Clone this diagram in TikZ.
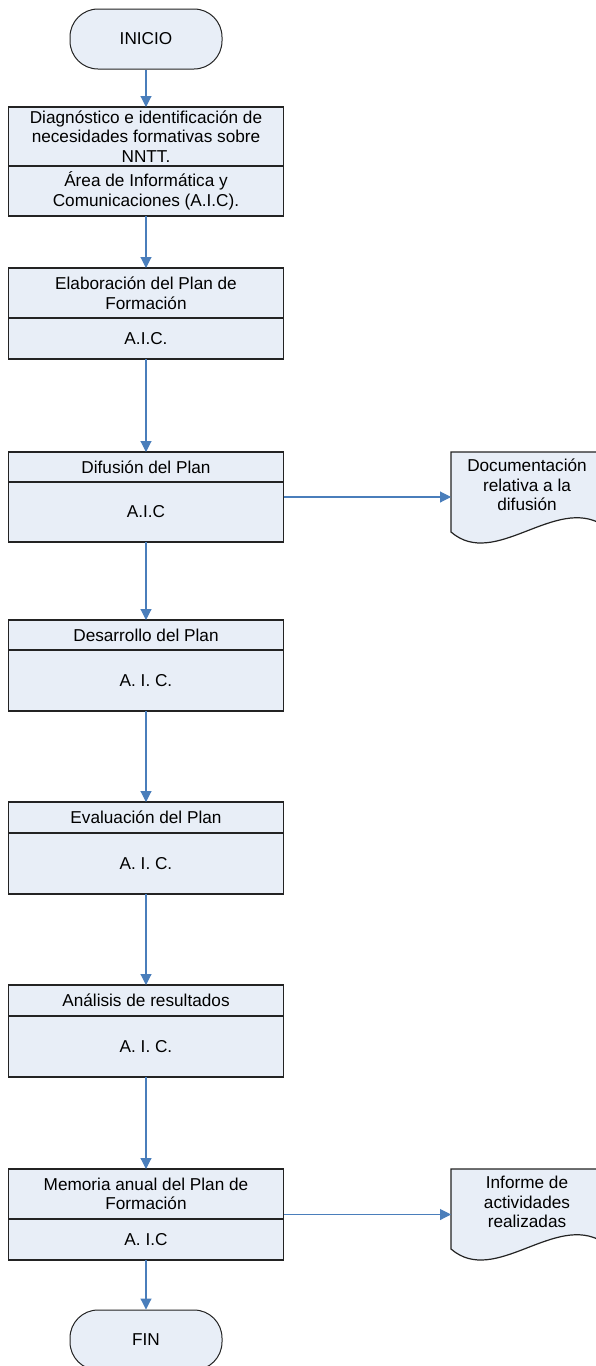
\documentclass[tikz,border=0pt]{standalone}
\usepackage{fontspec}
\setmainfont{Liberation Sans}
\usetikzlibrary{arrows.meta,calc}
\definecolor{fillc}{RGB}{232,238,247}
\definecolor{arrc}{RGB}{74,126,187}
\definecolor{linec}{RGB}{35,35,35}
\newcommand\docshp[1]{%
  \filldraw[draw=linec, fill=fillc, line width=1.2pt]
    (451,#1) -- (603,#1) -- (603,#1+73)
    .. controls (555,#1+43) and (495,#1+118) .. (451,#1+80) -- cycle;}
\begin{document}
\begin{tikzpicture}[x=1pt,y=-1pt,
  every node/.style={font=\fontsize{17.2}{19.5}\selectfont},
  part/.style={draw=linec, fill=fillc, line width=1.2pt, minimum width=275pt,
    inner sep=0pt, outer sep=0pt, align=center, anchor=north},
  term/.style={draw=linec, fill=fillc, line width=1pt, rounded corners=28pt,
    minimum width=152pt, minimum height=60pt},
  flow/.style={draw=arrc, line width=1.1pt, -{Triangle[width=11pt,length=11pt]}},
  docarea/.style={minimum width=152pt, minimum height=91pt, inner sep=0pt, outer sep=0pt},
  doctext/.style={align=center, inner sep=0pt},
]
\useasboundingbox (0,0) rectangle (596,1366);
\clip (0,0) rectangle (596,1366);

% terminals
\node[term] (ini) at (146,39) {INICIO};
\node[term] (fin) at (146,1340) {FIN};

% process boxes
\node[part, minimum height=59pt] (b1t) at (146,107) {Diagnóstico e identificación de\\necesidades formativas sobre\\NNTT.};
\node[part, minimum height=50pt] (b1b) at (b1t.south) {Área de Informática y\\Comunicaciones (A.I.C).};

\node[part, minimum height=50pt] (b2t) at (146,268) {Elaboración del Plan de\\Formación};
\node[part, minimum height=41pt] (b2b) at (b2t.south) {A.I.C.};

\node[part, minimum height=30pt] (b3t) at (146,452) {Difusión del Plan};
\node[part, minimum height=60pt] (b3b) at (b3t.south) {A.I.C};

\node[part, minimum height=30pt] (b4t) at (146,620) {Desarrollo del Plan};
\node[part, minimum height=61pt] (b4b) at (b4t.south) {A. I. C.};

\node[part, minimum height=31pt] (b5t) at (146,802) {Evaluación del Plan};
\node[part, minimum height=61pt] (b5b) at (b5t.south) {A. I. C.};

\node[part, minimum height=31pt] (b6t) at (146,985) {Análisis de resultados};
\node[part, minimum height=61pt] (b6b) at (b6t.south) {A. I. C.};

\node[part, minimum height=50pt] (b7t) at (146,1169) {Memoria anual del Plan de\\Formación};
\node[part, minimum height=41pt] (b7b) at (b7t.south) {A. I.C};

% documents
\docshp{452}
\node[docarea] (d1) at (527,497.5) {};
\node[doctext] (d1txt) at (527,485) {Documentación\\relativa a la\\difusión};
\docshp{1169}
\node[docarea] (d2) at (527,1214.5) {};
\node[doctext] (d2txt) at (527,1202) {Informe de\\actividades\\realizadas};

% connectors
\draw[flow] (ini) -- (b1t);
\draw[flow] (b1b) -- (b2t);
\draw[flow] (b2b) -- (b3t);
\draw[flow] (b3b) -- (b4t);
\draw[flow] (b4b) -- (b5t);
\draw[flow] (b5b) -- (b6t);
\draw[flow] (b6b) -- (b7t);
\draw[flow] (b7b) -- (fin);
\coordinate (b3r) at ($(b3t.north east)!0.5!(b3b.south east)$);
\coordinate (b7r) at ($(b7t.north east)!0.5!(b7b.south east)$);
\draw[flow] (b3r) -- (b3r -| d1.west);
\draw[flow] (b7r) -- (b7r -| d2.west);
\end{tikzpicture}
\end{document}
